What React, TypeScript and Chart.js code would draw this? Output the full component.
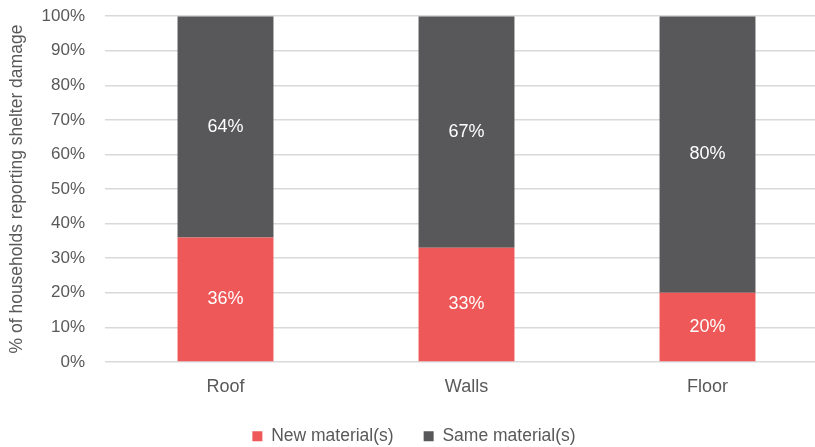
import React, { useEffect, useRef } from "react";
import { Chart, registerables } from "chart.js";

Chart.register(...registerables);

const categories = ["Roof", "Walls", "Floor"];
const newMaterial = [36, 33, 20];
const sameMaterial = [64, 67, 80];
const seriesNames = ["New material(s)", "Same material(s)"];
const yTicks = [0, 10, 20, 30, 40, 50, 60, 70, 80, 90, 100];

const FONT = "'Liberation Sans Narrow', 'Arial Narrow', 'Liberation Sans', sans-serif";

const labelPlugin = {
  id: "barLabels",
  afterDatasetsDraw(chart: any) {
    const ctx = chart.ctx;
    ctx.save();
    ctx.fillStyle = "#FFFFFF";
    ctx.font = `18px ${FONT}`;
    ctx.textAlign = "center";
    ctx.textBaseline = "middle";
    chart.data.datasets.forEach((ds: any, di: number) => {
      const meta = chart.getDatasetMeta(di);
      meta.data.forEach((bar: any, i: number) => {
        const y = (bar.y + bar.base) / 2;
        ctx.fillText(ds.data[i] + "%", bar.x, y);
      });
    });
    ctx.restore();
  },
};

export default function App() {
  const ref = useRef<HTMLCanvasElement>(null);
  useEffect(() => {
    const chart = new Chart(ref.current!, {
      type: "bar",
      data: {
        labels: categories,
        datasets: [
          { label: seriesNames[0], data: newMaterial, backgroundColor: "#EE5858" },
          { label: seriesNames[1], data: sameMaterial, backgroundColor: "#58585A" },
        ],
      },
      options: {
        animation: false,
        responsive: false,
        maintainAspectRatio: false,
        layout: { padding: { top: 0, left: 0, right: 0, bottom: 0 } },
        datasets: { bar: { barPercentage: 1, categoryPercentage: 0.398 } } as any,
        scales: {
          x: {
            stacked: true,
            grid: { display: false },
            border: { display: false },
            ticks: { color: "#595959", font: { family: FONT, size: 18 }, padding: 6 },
            afterFit: (s: any) => {
              s.height -= 6;
            },
          },
          y: {
            stacked: true,
            min: 0,
            max: 100,
            afterBuildTicks: (axis: any) => {
              axis.ticks = yTicks.map((v) => ({ value: v }));
            },
            afterFit: (s: any) => {
              s.width = 105;
            },
            grid: { color: "#D9D9D9", lineWidth: 1.5, drawTicks: false },
            border: { display: false },
            ticks: {
              color: "#595959",
              font: { family: FONT, size: 17 },
              padding: 20,
              callback: (v: any) => v + "%",
            },
            title: {
              display: true,
              text: "% of households reporting shelter damage",
              color: "#595959",
              font: { family: FONT, size: 17.5 },
              padding: { top: 7, bottom: 0 },
            },
          },
        },
        plugins: {
          legend: {
            position: "bottom",
            labels: {
              color: "#595959",
              font: { family: FONT, size: 17.5 },
              boxWidth: 10,
              boxHeight: 10,
              padding: 30,
            },
          },
          tooltip: { enabled: false },
        },
      },
      plugins: [labelPlugin],
    });
    return () => chart.destroy();
  }, []);
  return (
    <div style={{ position: "absolute", left: 0, top: -14, width: 828, height: 469 }}>
      <canvas ref={ref} width={828} height={469} style={{ display: "block" }} />
    </div>
  );
}
